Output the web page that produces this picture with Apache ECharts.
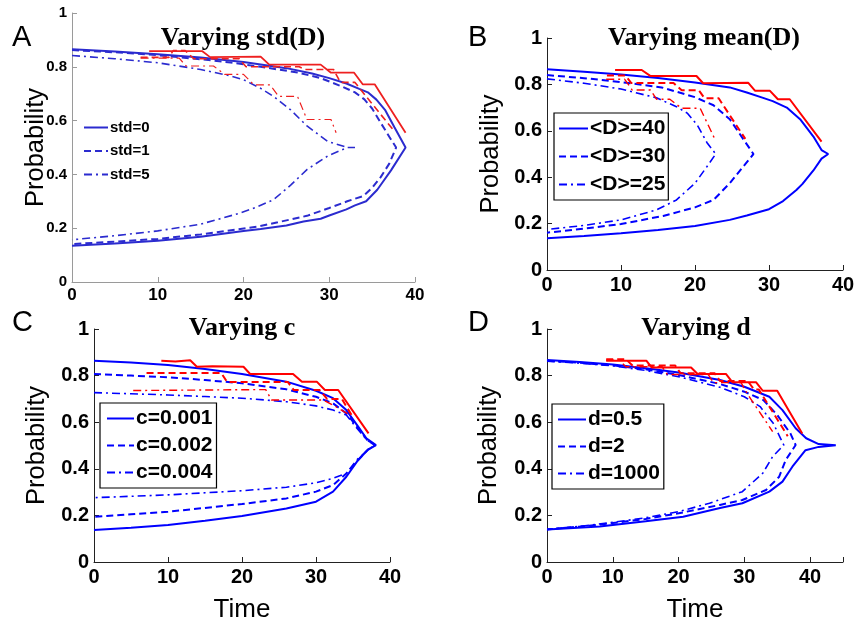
<!DOCTYPE html>
<html><head><meta charset="utf-8">
<script src="https://cdn.jsdelivr.net/npm/echarts@6/dist/echarts.min.js"></script>
<style>html,body{margin:0;padding:0;background:#fff}#c{width:857px;height:624px}</style>
</head><body><div id="c"></div>
<script>
// ---------- tick / text data ----------
const xMaxes = [40, 40, 40, 45];
const xInterval = 10;
const yInterval = 0.2;
const panelLetters = ['A', 'B', 'C', 'D'];
const panelTitles = ['Varying std(D)', 'Varying mean(D)', 'Varying c', 'Varying d'];
const legendA = ['std=0', 'std=1', 'std=5'];
const legendB = ['<D>=40', '<D>=30', '<D>=25'];
const legendC = ['c=0.001', 'c=0.002', 'c=0.004'];
const legendD = ['d=0.5', 'd=2', 'd=1000'];

// ---------- Panel A : [time, probability] ----------
const A_blue0 = [[0,0.865],[5,0.857],[10,0.847],[15,0.835],[20,0.818],[25,0.795],[28,0.775],[30,0.758],[32,0.738],[33.5,0.718],[34.5,0.705],[35.5,0.678],[36.5,0.64],[37.6,0.575],[38.9,0.5],
  [37.2,0.415],[36.2,0.37],[35.6,0.343],[34.3,0.3],[33,0.285],[32,0.27],[30,0.247],[29,0.235],[27,0.225],[25,0.21],[22,0.197],[20,0.19],[15,0.168],[10,0.153],[5,0.143],[0,0.135]];
const A_blue1 = [[0,0.862],[5,0.854],[10,0.843],[15,0.828],[18.5,0.816],[22,0.8],[26.3,0.779],[29,0.758],[31.3,0.729],[33,0.705],[34.1,0.679],[35,0.645],[36,0.592],[37,0.54],[37.8,0.5],
  [37,0.44],[36,0.39],[35,0.35],[34,0.32],[32.1,0.3],[30,0.275],[27.4,0.246],[24,0.222],[21.6,0.206],[18,0.19],[15,0.177],[10,0.16],[5,0.15],[0,0.141]];
const A_blue5 = [[0,0.842],[5,0.83],[10,0.815],[15,0.79],[18.5,0.766],[20,0.752],[22,0.72],[23.5,0.69],[25.5,0.64],[27.4,0.58],[29.8,0.523],[32.1,0.5],[33,0.5],[32.1,0.5],
  [29.8,0.468],[27.4,0.418],[25.5,0.36],[23.5,0.306],[21.5,0.278],[19.6,0.256],[15,0.215],[10,0.19],[5,0.172],[0,0.157]];
const A_red0 = [[9,0.858],[15.2,0.858],[16.1,0.836],[22,0.838],[23,0.808],[29,0.808],[30.2,0.778],[32.9,0.778],[33.9,0.735],[35.3,0.735],[38.9,0.555]];
const A_red1 = [[8,0.835],[11.3,0.835],[11.8,0.86],[13.2,0.86],[14.2,0.83],[19.5,0.83],[20.3,0.8],[26.5,0.8],[27.2,0.79],[30.5,0.79],[31.3,0.742],[33,0.742],[34.3,0.69],[37.6,0.56]];
const A_red5 = [[8,0.832],[12.5,0.832],[13.3,0.803],[16.5,0.803],[17.8,0.772],[20,0.772],[21.2,0.733],[23.1,0.733],[24.1,0.69],[26.3,0.69],[27.4,0.604],[30.2,0.604],[30.8,0.555]];

// ---------- Panel B ----------
const B_blue40 = [[0,0.865],[5,0.855],[10,0.843],[15,0.828],[20,0.808],[24.7,0.787],[27,0.765],[29.2,0.742],[30.5,0.728],[32.4,0.7],[34.2,0.65],[36,0.575],[37.1,0.517],[38,0.5],
  [37.1,0.48],[36,0.429],[34.5,0.37],[33.7,0.345],[31.9,0.297],[30,0.262],[27,0.235],[24.7,0.216],[20,0.19],[15,0.172],[10,0.158],[5,0.147],[0,0.137]];
const B_blue30 = [[0,0.84],[5,0.827],[10,0.81],[15.5,0.787],[20,0.745],[22.5,0.71],[24.7,0.65],[26.5,0.565],[27.9,0.5],
  [26.5,0.445],[24.7,0.374],[22.5,0.302],[20,0.27],[15.7,0.233],[10,0.198],[5,0.178],[0,0.161]];
const B_blue25 = [[0,0.824],[5,0.805],[10,0.78],[14.8,0.742],[17.5,0.704],[19,0.675],[20.3,0.625],[21.6,0.55],[22.8,0.5],
  [21.6,0.445],[20,0.374],[17.5,0.302],[14.8,0.259],[10,0.216],[5,0.192],[0,0.175]];
const B_red40 = [[9.2,0.862],[12.8,0.862],[14,0.836],[20.2,0.836],[21.1,0.805],[27.2,0.807],[28.1,0.773],[30.1,0.773],[31.2,0.736],[32.8,0.736],[37.1,0.553]];
const B_red30 = [[8.1,0.838],[10.6,0.838],[11.4,0.806],[17.1,0.806],[18.2,0.775],[20.5,0.775],[21.3,0.74],[23.2,0.74],[26.8,0.565]];
const B_red25 = [[8,0.822],[10.5,0.822],[11.5,0.776],[14,0.776],[14.8,0.736],[16.6,0.736],[18.2,0.697],[20.7,0.697],[22.7,0.563]];

// ---------- Panel C ----------
const C_blue1 = [[0,0.864],[5,0.856],[10,0.845],[15,0.828],[20,0.807],[26,0.774],[30,0.735],[32.3,0.703],[34.1,0.652],[35.7,0.581],[36.8,0.531],[38.1,0.502],
  [37,0.481],[35.7,0.438],[34.1,0.366],[32.3,0.302],[30,0.259],[26,0.23],[20,0.197],[15,0.177],[10,0.159],[5,0.147],[0,0.137]];
const C_blue2 = [[0,0.807],[5,0.8],[10,0.793],[15,0.781],[20,0.767],[26,0.741],[30,0.709],[32.3,0.681],[34.1,0.638],[35.7,0.575],[37,0.52],[38,0.502],
  [37,0.482],[35.7,0.438],[34.1,0.38],[32.3,0.33],[30,0.302],[26,0.273],[20,0.249],[15,0.232],[10,0.216],[5,0.205],[0,0.194]];
const C_blue4 = [[0,0.727],[5,0.722],[10,0.717],[15,0.71],[20,0.703],[26,0.688],[30,0.67],[32.3,0.652],[34.1,0.631],[35.5,0.575],[37,0.52],[38,0.502],
  [37,0.482],[35.5,0.438],[34.1,0.38],[32.3,0.359],[30,0.34],[26,0.321],[20,0.306],[15,0.297],[10,0.288],[5,0.282],[0,0.276]];
const C_red1 = [[9.1,0.864],[11,0.86],[13,0.866],[13.9,0.838],[16,0.84],[20.2,0.838],[21.1,0.807],[26.9,0.807],[28.1,0.774],[30.1,0.774],[31.2,0.738],[33,0.738],[37.1,0.552]];
const C_red2 = [[7.1,0.811],[17.2,0.811],[18,0.772],[26.2,0.772],[27,0.738],[30.5,0.738],[31.5,0.7],[33.5,0.7],[35,0.62]];
const C_red4 = [[5.3,0.736],[23.2,0.74],[24,0.695],[31,0.695],[32.5,0.67],[34.6,0.63]];

// ---------- Panel D ----------
const D_blue05 = [[0,0.867],[5,0.858],[10,0.848],[15,0.832],[20,0.813],[26.3,0.781],[30,0.752],[33.8,0.709],[35.8,0.652],[37.8,0.574],[39.4,0.531],[41.3,0.506],[43.9,0.501],
  [41.3,0.494],[39.3,0.48],[38.3,0.445],[37.3,0.409],[35.8,0.345],[33.8,0.302],[29.7,0.252],[26.3,0.232],[20.7,0.194],[15,0.175],[8,0.152],[0,0.14]];
const D_blue2 = [[0,0.864],[5,0.855],[10,0.844],[15,0.827],[20,0.803],[26.3,0.764],[30,0.731],[32.9,0.695],[35,0.631],[37,0.552],[37.8,0.502],
  [36.3,0.438],[35.3,0.366],[33.3,0.309],[29.7,0.266],[26.3,0.245],[20,0.209],[15,0.185],[10,0.167],[5,0.152],[0,0.14]];
const D_blue1000 = [[0,0.862],[5,0.853],[10,0.842],[15,0.822],[20,0.795],[26.3,0.75],[30,0.709],[32.4,0.667],[34.4,0.595],[36,0.502],
  [34.3,0.452],[32.8,0.381],[29.7,0.302],[24.7,0.252],[20,0.216],[15,0.19],[10,0.17],[5,0.153],[0,0.14]];
const D_red05 = [[9,0.864],[15.1,0.864],[15.9,0.835],[21.9,0.835],[22.9,0.807],[27.2,0.807],[28.2,0.771],[31.8,0.771],[32.8,0.735],[35,0.735],[38.8,0.552]];
const D_red2 = [[9,0.87],[12,0.87],[13,0.843],[19.5,0.843],[20.3,0.81],[25.5,0.81],[26.3,0.777],[30.5,0.777],[31.5,0.74],[32.2,0.74],[36.6,0.54]];
const D_red1000 = [[9,0.866],[11,0.866],[12,0.838],[17.5,0.838],[18.3,0.805],[24.5,0.805],[25.3,0.77],[29.5,0.77],[30.5,0.72],[34.3,0.56]];

// ---------- styling ----------
const BLUE = '#0000ff', RED = '#ff0000';
const BLUE_A = '#2b2bcf', RED_A = '#ee2020';
const SOLID = 'solid', DASH = [7, 4], DASHDOT = [8, 4, 2, 4];
const SANS = 'Liberation Sans', SERIF = 'Liberation Serif';

const grids = [
  {left: 72, top: 13, width: 343, height: 269},
  {left: 547, top: 38, width: 296, height: 232},
  {left: 94, top: 329, width: 296, height: 233},
  {left: 547, top: 329, width: 296, height: 233}
].map(g => Object.assign({outerBoundsMode: 'none', containLabel: false}, g));

function line(name, data, gi, color, type, width) {
  return {
    name, type: 'line', xAxisIndex: gi, yAxisIndex: gi, data,
    symbol: 'none', showSymbol: false, smooth: false, silent: true,
    lineStyle: {color, type, width}, itemStyle: {color},
    emphasis: {disabled: true}
  };
}

const series = [
  line(legendA[0], A_blue0, 0, BLUE_A, SOLID, 2),
  line(legendA[1], A_blue1, 0, BLUE_A, DASH, 2),
  line(legendA[2], A_blue5, 0, BLUE_A, DASHDOT, 1.6),
  line('rA0', A_red0, 0, RED_A, SOLID, 1.8),
  line('rA1', A_red1, 0, RED_A, DASH, 1.6),
  line('rA5', A_red5, 0, RED_A, DASHDOT, 1.2),

  line(legendB[0], B_blue40, 1, BLUE, SOLID, 2),
  line(legendB[1], B_blue30, 1, BLUE, DASH, 2),
  line(legendB[2], B_blue25, 1, BLUE, DASHDOT, 1.6),
  line('rB0', B_red40, 1, RED, SOLID, 2),
  line('rB1', B_red30, 1, RED, DASH, 2),
  line('rB2', B_red25, 1, RED, DASHDOT, 1.4),

  line(legendC[0], C_blue1, 2, BLUE, SOLID, 2),
  line(legendC[1], C_blue2, 2, BLUE, DASH, 2),
  line(legendC[2], C_blue4, 2, BLUE, DASHDOT, 1.6),
  line('rC0', C_red1, 2, RED, SOLID, 2),
  line('rC1', C_red2, 2, RED, DASH, 2),
  line('rC2', C_red4, 2, RED, DASHDOT, 1.4),

  line(legendD[0], D_blue05, 3, BLUE, SOLID, 2),
  line(legendD[1], D_blue2, 3, BLUE, DASH, 2),
  line(legendD[2], D_blue1000, 3, BLUE, DASHDOT, 1.6),
  line('rD0', D_red05, 3, RED, SOLID, 2),
  line('rD1', D_red2, 3, RED, DASH, 2),
  line('rD2', D_red1000, 3, RED, DASHDOT, 1.4)
];

const axisColors = ['#9a9a9a', '#222', '#222', '#222'];
const xLabelSize = [17, 20, 20, 20];
const yLabelSize = [15, 20, 20, 20];
const yNameGap = [23, 43, 44, 45];

const xAxis = grids.map((g, i) => ({
  gridIndex: i, type: 'value', min: 0, max: xMaxes[i], interval: xInterval,
  axisLine: {show: true, onZero: false, lineStyle: {color: axisColors[i], width: 1}},
  axisTick: {show: true, inside: true, length: 5, lineStyle: {color: axisColors[i]}},
  axisLabel: {color: '#000', fontFamily: SANS, fontWeight: 'bold', fontSize: xLabelSize[i], margin: 5,
    formatter: v => (v % xInterval === 0 ? String(v) : '')},
  splitLine: {show: false},
  name: i >= 2 ? 'Time' : '', nameLocation: 'middle', nameGap: 35,
  nameTextStyle: {fontFamily: SANS, fontSize: 26, color: '#000'}
}));

const yAxis = grids.map((g, i) => ({
  gridIndex: i, type: 'value', min: 0, max: 1, interval: yInterval,
  axisLine: {show: true, onZero: false, lineStyle: {color: axisColors[i], width: 1}},
  axisTick: {show: true, inside: true, length: 5, lineStyle: {color: axisColors[i]}},
  axisLabel: {color: '#000', fontFamily: SANS, fontWeight: 'bold', fontSize: yLabelSize[i], margin: 5},
  splitLine: {show: false},
  name: 'Probability', nameLocation: 'middle', nameGap: yNameGap[i], nameMoveOverlap: false,
  nameTextStyle: {fontFamily: SANS, fontSize: 25.5, color: '#000'}
}));

function legend(data, left, top, fs, iw, ih, gap, pad, border) {
  return {
    data, orient: 'vertical', left, top, itemWidth: iw, itemHeight: ih, itemGap: gap,
    padding: pad, borderColor: '#000', borderWidth: border ? 1.2 : 0, backgroundColor: border ? '#fff' : 'transparent',
    selectedMode: false,
    itemStyle: {opacity: 0, borderWidth: 0},
    textStyle: {fontFamily: SANS, fontWeight: 'bold', fontSize: fs, color: '#000', padding: [0, 0, 0, -3]}
  };
}

const legends = [
  legend(legendA, 83, 120, 15, 24, 14, 8.5, 0, false),
  legend(legendB, 554, 113, 21, 29, 20, 7, [5, 3, 5, 4], true),
  legend(legendC, 100, 403, 21, 27, 21, 6, [5, 4, 5, 6], true),
  legend(legendD, 552, 404, 21, 28, 21, 6, [5, 4, 5, 5], true)
];

const titleCenters = [243, 704, 242, 696];
const titleTops = [25, 25, 315, 315];
const letterPos = [[12, 23], [468, 23], [12, 308], [468, 308]];
const titles = [];
panelLetters.forEach((t, i) => titles.push({
  text: t, left: letterPos[i][0], top: letterPos[i][1], padding: 0,
  textStyle: {fontFamily: SANS, fontWeight: 'normal', fontSize: 29, color: '#000'}
}));
panelTitles.forEach((t, i) => titles.push({
  text: t, left: titleCenters[i], top: titleTops[i], textAlign: 'center', padding: 0,
  textStyle: {fontFamily: SERIF, fontWeight: 'bold', fontSize: 26, color: '#000'}
}));

const chart = echarts.init(document.getElementById('c'), null, {renderer: 'canvas'});
chart.setOption({
  animation: false,
  backgroundColor: '#fff',
  title: titles,
  grid: grids,
  xAxis, yAxis,
  legend: legends,
  tooltip: {show: false},
  series
});
</script>
</body></html>
